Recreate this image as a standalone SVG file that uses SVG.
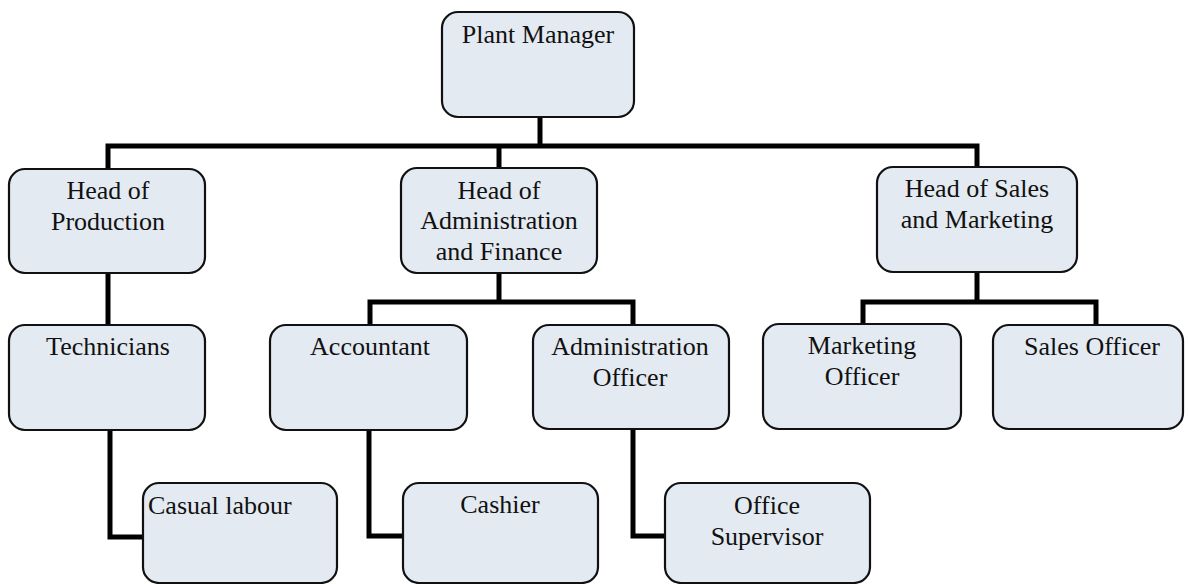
<svg xmlns="http://www.w3.org/2000/svg" width="1189" height="584" viewBox="0 0 1189 584">
<style>
.box{fill:#e4eaf1;stroke:#111;stroke-width:2.2}
.t{font-size:26px;fill:#111;text-anchor:middle}
.tl{text-anchor:start}
.c{fill:none;stroke:#000;stroke-width:5;stroke-linejoin:miter;stroke-linecap:butt}
</style>
<rect width="1189" height="584" fill="#fff"/>
<g id="connectors">
<path class="c" d="M540 117V146"/>
<path class="c" d="M108 169V146H977V167"/>
<path class="c" d="M499 146V168"/>
<path class="c" d="M108 273V325"/>
<path class="c" d="M499 273V302"/>
<path class="c" d="M370 325V302H633V325"/>
<path class="c" d="M977 272V302"/>
<path class="c" d="M863 324V302H1096V325"/>
<path class="c" d="M110 430V537H143"/>
<path class="c" d="M369 430V536H403"/>
<path class="c" d="M633 429V536H665"/>
</g>
<g font-family="Liberation Serif, DejaVu Serif, serif">
<g id="plant-manager"><rect class="box" x="442" y="12" width="192" height="105" rx="16"/><text class="t" x="538" y="43">Plant Manager</text></g>
<g id="head-production"><rect class="box" x="9" y="169" width="196" height="104" rx="16"/><text class="t" x="108" y="199">Head of</text><text class="t" x="108" y="230">Production</text></g>
<g id="head-admin"><rect class="box" x="401" y="168" width="196" height="105" rx="16"/><text class="t" x="499" y="199">Head of</text><text class="t" x="499" y="229">Administration</text><text class="t" x="499" y="260">and Finance</text></g>
<g id="head-sales"><rect class="box" x="877" y="167" width="200" height="105" rx="16"/><text class="t" x="977" y="197">Head of Sales</text><text class="t" x="977" y="228">and Marketing</text></g>
<g id="technicians"><rect class="box" x="9" y="325" width="196" height="105" rx="16"/><text class="t" x="108" y="355">Technicians</text></g>
<g id="accountant"><rect class="box" x="270" y="325" width="197" height="105" rx="16"/><text class="t" x="370" y="355">Accountant</text></g>
<g id="admin-officer"><rect class="box" x="533" y="325" width="196" height="104" rx="16"/><text class="t" x="630" y="355">Administration</text><text class="t" x="630" y="386">Officer</text></g>
<g id="marketing-officer"><rect class="box" x="763" y="324" width="198" height="105" rx="16"/><text class="t" x="862" y="354">Marketing</text><text class="t" x="862" y="385">Officer</text></g>
<g id="sales-officer"><rect class="box" x="993" y="325" width="190" height="104" rx="16"/><text class="t" x="1092" y="355">Sales Officer</text></g>
<g id="casual-labour"><rect class="box" x="143" y="483" width="194" height="100" rx="16"/><text class="t tl" x="148" y="514">Casual labour</text></g>
<g id="cashier"><rect class="box" x="403" y="483" width="195" height="100" rx="16"/><text class="t" x="500" y="513">Cashier</text></g>
<g id="office-supervisor"><rect class="box" x="665" y="483" width="205" height="100" rx="16"/><text class="t" x="767" y="514">Office</text><text class="t" x="767" y="545">Supervisor</text></g>
</g>
</svg>
